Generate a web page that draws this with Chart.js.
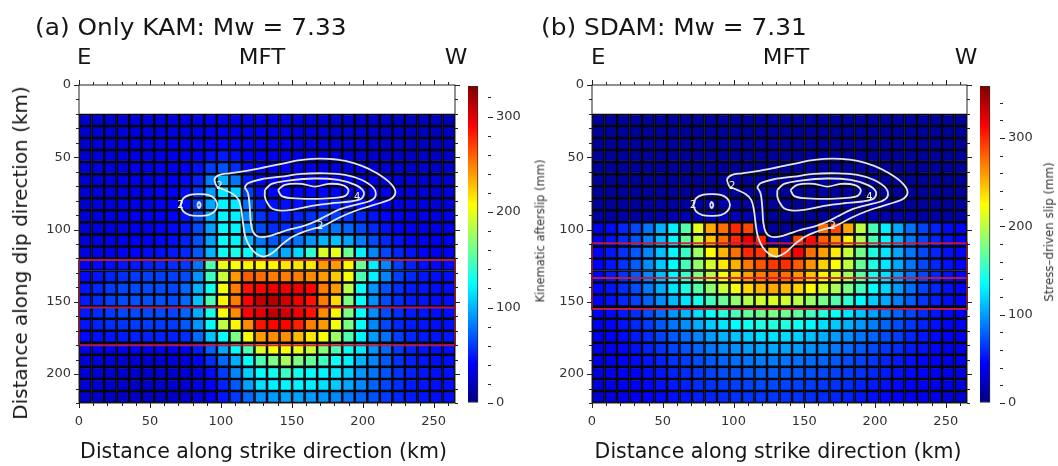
<!DOCTYPE html>
<html>
<head>
<meta charset="utf-8">
<title>Kinematic afterslip vs stress-driven afterslip</title>
<script src="https://cdn.jsdelivr.net/npm/chart.js@4.4.1/dist/chart.umd.min.js"></script>
<style>
html,body{margin:0;padding:0;background:#fff;}
#wrap{position:relative;width:1058px;height:466px;overflow:hidden;font-family:"DejaVu Sans",sans-serif;color:#161616;}
#wrap canvas{position:absolute;top:0;}
.t{position:absolute;white-space:nowrap;line-height:1;}
</style>
</head>
<body>
<div id="wrap">
<canvas id="heatA" width="470" height="466" style="left:0px;width:470px;height:466px"></canvas>
<canvas id="heatB" width="460" height="466" style="left:530px;width:460px;height:466px"></canvas>
<canvas id="barA" width="75" height="466" style="left:460px;width:75px;height:466px"></canvas>
<canvas id="barB" width="75" height="466" style="left:972px;width:75px;height:466px"></canvas>

<div class="t" style="left:35px;top:15.5px;font-size:23px;transform-origin:0 0;transform:scaleX(1.08)">(a) Only KAM: Mw = 7.33</div>
<div class="t" style="left:541px;top:15.5px;font-size:23px;transform-origin:0 0;transform:scaleX(1.08)">(b) SDAM: Mw = 7.31</div>

<div class="t" style="left:77px;top:47px;font-size:21px;transform-origin:0 0;transform:scaleX(1.09)">E</div>
<div class="t" style="left:262px;top:47px;font-size:21px;transform:translateX(-50%) scaleX(1.09)">MFT</div>
<div class="t" style="left:455.5px;top:47px;font-size:21px;transform:translateX(-50%) scaleX(1.09)">W</div>
<div class="t" style="left:591px;top:47px;font-size:21px;transform-origin:0 0;transform:scaleX(1.09)">E</div>
<div class="t" style="left:786px;top:47px;font-size:21px;transform:translateX(-50%) scaleX(1.09)">MFT</div>
<div class="t" style="left:966px;top:47px;font-size:21px;transform:translateX(-50%) scaleX(1.09)">W</div>

<div class="t" style="left:20px;top:253px;font-size:20px;transform:translate(-50%,-50%) rotate(-90deg)">Distance along dip direction (km)</div>
<div class="t" style="left:263.5px;top:440.7px;font-size:20.5px;transform:translateX(-50%)">Distance along strike direction (km)</div>
<div class="t" style="left:778px;top:440.7px;font-size:20.5px;transform:translateX(-50%)">Distance along strike direction (km)</div>

<div class="t" style="left:541.4px;top:230.5px;font-size:11.5px;color:#333;transform:translate(-50%,-50%) rotate(-90deg)">Kinematic afterslip (mm)</div>
<div class="t" style="left:1049.5px;top:231.5px;font-size:11.8px;color:#333;transform:translate(-50%,-50%) rotate(-90deg)">Stress–driven slip (mm)</div>
</div>

<script>
// ---------------- DATA ----------------
// along-strike cell centres (km) and along-dip cell edges (km)
const colCenters = [4.42,13.25,22.08,30.92,39.75,48.58,57.42,66.25,75.08,83.92,92.75,101.58,110.42,119.25,128.08,136.92,145.75,154.58,163.42,172.25,181.08,189.92,198.75,207.58,216.42,225.25,234.08,242.92,251.75,260.58];
const rowEdges = [20,28.33,36.67,45,53.33,61.67,70,78.33,86.67,95,103.33,111.67,120,128.33,136.67,145,153.33,161.67,170,178.33,186.67,195,203.33,211.67,220];

const xTickLabels = [0,50,100,150,200,250];
const yTickLabels = [0,50,100,150,200];
const cbarTickLabels = [0,100,200,300];
const kamMax = 332;
const sdamMax = 359;

// (a) kinematic afterslip, mm (rows top->bottom, columns E->W)
const kamSlip = [
[26,26,27,28,29,30,30,31,32,33,34,35,35,35,34,33,32,30,28,27,26,25,24,23,22,21,20,20,20,20],
[26,27,28,29,30,31,31,32,33,34,36,37,37,36,35,34,33,31,29,28,27,26,25,24,23,22,21,21,21,21],
[27,28,29,30,31,32,33,34,35,37,40,42,40,38,36,35,34,32,30,29,28,27,26,25,24,23,22,22,22,22],
[27,28,29,30,32,33,34,35,37,40,46,50,46,40,37,36,35,33,31,30,29,28,27,26,25,24,23,23,23,23],
[28,29,30,31,33,34,35,37,40,46,60,68,56,44,39,37,36,34,33,32,31,30,29,28,27,26,25,25,25,25],
[28,29,30,32,33,35,37,39,43,52,82,100,80,50,42,39,38,37,36,36,35,34,33,31,30,29,28,27,27,27],
[28,29,31,32,34,36,38,40,45,58,92,118,110,62,46,42,41,41,42,42,41,40,38,36,34,32,30,29,29,29],
[28,30,31,33,35,37,39,41,46,62,96,122,118,78,52,46,46,47,49,51,51,49,46,42,38,35,33,31,31,31],
[29,30,32,34,36,38,40,42,47,64,95,122,120,86,58,50,50,52,56,62,62,58,53,47,42,38,35,33,33,33],
[30,31,33,35,37,39,41,44,49,66,94,124,122,92,66,56,56,60,66,76,80,74,65,55,47,42,38,35,35,35],
[31,33,35,37,39,41,43,46,52,68,95,125,122,100,80,70,72,80,90,100,105,96,82,66,54,47,42,38,37,37],
[33,35,37,40,42,44,46,49,55,70,100,128,132,125,108,96,98,112,140,195,200,160,120,86,64,53,47,42,40,40],
[40,44,46,48,50,52,54,56,60,80,150,200,205,210,210,210,215,215,215,240,240,210,160,120,85,62,52,46,44,44],
[44,48,52,56,60,62,62,62,66,90,145,190,240,260,255,250,250,250,245,240,225,205,150,120,85,62,54,48,46,46],
[48,54,60,64,66,66,66,64,75,100,130,205,250,285,290,295,295,295,290,250,240,185,125,90,68,56,50,48,46,46],
[50,56,62,66,68,68,68,66,76,105,150,210,250,290,310,315,305,295,285,250,220,165,125,88,66,56,50,48,46,46],
[50,55,60,64,66,66,66,64,74,98,132,205,245,290,300,312,305,295,285,245,210,165,125,88,66,56,50,48,46,46],
[48,52,56,58,60,60,60,60,70,90,125,185,210,245,285,290,290,280,250,240,205,165,125,85,64,54,50,48,46,46],
[44,46,48,50,52,52,52,52,56,75,105,125,165,205,240,245,245,230,215,205,175,150,120,92,78,62,54,50,48,48],
[36,37,38,38,38,38,38,38,42,50,72,96,125,150,195,205,205,200,190,168,150,128,118,90,76,60,52,48,46,46],
[30,30,29,28,28,28,28,30,34,42,55,75,98,125,150,165,178,165,158,145,128,120,100,86,70,58,52,48,46,46],
[28,27,26,25,25,25,25,26,28,32,44,60,85,110,125,130,145,130,125,122,118,108,90,80,68,58,52,48,46,46],
[27,26,25,24,24,24,24,26,28,32,40,52,70,95,115,120,122,122,120,115,108,96,86,74,64,56,50,48,46,46],
[26,25,24,23,23,23,23,25,27,31,38,48,60,76,88,92,95,95,92,90,86,80,74,68,60,54,50,48,46,46]
];

// (b) stress-driven afterslip, mm
const sdamSlip = [
[10,10,10,10,10,10,10,10,10,10,10,10,10,10,10,10,10,10,10,10,10,10,10,10,10,10,10,10,10,10],
[10,10,10,10,10,10,10,10,10,10,10,10,10,10,10,10,10,10,10,10,10,10,10,10,10,10,10,10,10,10],
[10,10,10,10,10,10,10,10,10,10,10,10,10,10,10,10,10,10,10,10,10,10,10,10,10,10,10,10,10,10],
[10,10,10,10,10,10,10,10,10,10,10,10,10,10,10,10,10,10,10,10,10,10,10,10,10,10,10,10,10,10],
[10,10,10,10,10,10,10,10,10,10,10,10,10,10,10,10,10,10,10,10,10,10,10,10,10,10,10,10,10,10],
[10,10,10,10,10,10,10,10,10,10,10,10,10,10,10,10,10,10,10,10,10,10,10,10,10,10,10,10,10,10],
[11,11,11,11,11,11,11,11,11,11,11,10,10,10,10,10,10,10,10,10,10,11,11,11,11,11,11,11,11,11],
[11,11,12,12,12,13,13,13,14,14,14,13,12,10,9,9,9,9,10,11,12,13,13,13,12,12,12,11,11,11],
[12,12,13,14,15,16,17,18,20,22,22,20,18,14,9,9,9,9,10,12,15,18,18,17,16,15,14,13,12,12],
[40,48,58,70,86,108,130,165,215,255,275,300,290,20,8,8,8,8,275,290,255,200,160,130,105,85,68,56,48,44],
[42,50,60,74,90,110,132,168,205,245,275,300,320,300,20,15,290,310,280,258,230,195,160,132,108,88,70,58,50,45],
[44,52,62,76,92,112,132,155,190,225,250,275,300,295,250,295,315,275,258,232,205,175,145,126,104,86,70,58,50,46],
[45,52,62,78,95,115,135,160,188,210,232,252,272,285,295,298,282,262,240,222,202,172,145,126,104,86,70,58,50,46],
[46,53,62,76,92,112,132,155,180,200,220,240,258,270,278,275,262,245,228,212,192,168,142,124,102,85,70,58,50,46],
[46,52,60,72,88,105,125,145,165,185,205,222,238,250,255,250,240,225,210,195,178,158,136,120,100,84,68,58,50,46],
[45,50,58,68,80,95,110,126,142,158,172,186,198,208,212,208,200,188,176,164,150,134,118,104,90,78,64,55,49,45],
[44,48,54,62,72,84,98,110,124,136,148,160,168,174,178,174,168,158,148,138,126,114,102,90,80,70,60,52,47,43],
[42,46,51,58,66,76,86,96,106,116,126,134,140,146,148,146,140,132,124,116,108,98,90,80,72,64,56,50,46,42],
[40,44,48,54,60,68,76,84,92,100,108,114,118,122,124,122,118,112,106,100,94,86,80,72,66,58,52,48,44,40],
[38,42,46,50,56,62,68,74,80,86,92,96,100,102,104,102,100,96,92,88,82,76,70,64,60,54,50,46,42,38],
[36,40,44,48,52,56,62,66,72,76,80,84,86,88,88,86,85,82,80,76,72,68,64,58,54,50,46,43,40,36],
[34,38,42,45,48,52,56,60,64,68,72,74,76,78,78,76,75,73,70,68,65,62,58,54,50,47,44,41,38,34],
[32,36,40,43,46,50,53,56,60,62,65,67,68,70,70,68,67,66,64,62,60,56,53,50,47,44,42,39,36,32],
[30,34,38,41,44,47,50,52,55,57,60,62,63,64,64,63,62,61,60,58,56,52,50,47,45,42,40,37,34,30]
];

// depth lines of the red boxes (km): top, middle, bottom
const kamBoxDepths = [121, 154, 180];
const sdamBoxDepths = [109.5, 133.5, 155];

// coseismic slip contours, [strike km, dip km]
const contourOuter = [[97,70.3],[95.5,65.2],[99,62.2],[106,61.1],[119,59.2],[131,56.9],[142.7,54.6],[153.3,52.3],[164,51.1],[175.8,51.1],[187.6,52.5],[199.4,56],[210,61.1],[219.5,68],[223,73.7],[220.6,78.3],[213.5,81.3],[204.1,84.1],[193.5,87.5],[184,91.5],[177,95.1],[171,98],[164,99.8],[156.9,102.1],[149.8,105.3],[142.7,110.6],[136.8,115.9],[130.5,118.7],[125,116.8],[120.3,111.7],[117.2,104.8],[115.6,95.6],[114.4,86.4],[112.5,79.5],[108.5,75.4],[102.6,72.6],[97,70.3]];
const contourSecond = [[116.7,70.7],[119.1,68],[128.6,65.2],[142.7,63.4],[156.9,61.5],[173.4,61.1],[187.6,62.2],[199.4,65.7],[207.7,71.4],[208.8,77.2],[204.1,80.6],[194.7,82.9],[182.8,86.4],[173.4,91],[166.3,94.5],[156.9,98],[147.4,100.2],[140.3,102.5],[133.3,104.8],[126.2,104.8],[122.6,101.4],[121,94.5],[120.3,84.1],[119.1,74.9],[116.7,70.7]];
const contourThird = [[131,72.6],[135.7,68.4],[147.5,66.1],[166.3,64.7],[182.8,65.7],[194.7,69.1],[200.6,73.7],[199.4,78.3],[191.1,80.6],[178.1,81.8],[164,83.6],[152.1,86],[142.7,86.9],[135.7,85.2],[132.2,80.6],[131,77.2],[131,72.6]];
const contourInner = [[140.3,72.6],[145,69.1],[156.9,68.4],[166.3,70.3],[175.8,68.4],[185.2,69.1],[189.9,72.6],[187.6,76.7],[178.1,78.3],[164,78.8],[149.8,78.3],[142.7,76.7],[140.3,72.6]];
const contourWestLobe = [[71.5,83],[73.5,78.5],[78,76],[84.5,75.5],[91,76],[95.5,78.5],[97.5,83],[95.5,87.5],[91,90],[84.5,90.5],[78,90],[73.5,87.5],[71.5,83]];
const contourWestPeak = [[83.3,83],[84.5,80.8],[85.7,83],[84.5,85.2],[83.3,83]];
const contourLabelText = [[99,70.5,'2'],[71.5,83,'2'],[196,77.5,'4'],[170,97.5,'2']];

// ---------------- RENDERING ----------------
Chart.defaults.font.family = "'DejaVu Sans', sans-serif";

function jet(t) {
  t = Math.max(0, Math.min(1, t));
  const f = v => Math.round(255 * Math.max(0, Math.min(1, v)));
  return 'rgb(' + f(1.5 - Math.abs(4 * t - 3)) + ',' + f(1.5 - Math.abs(4 * t - 2)) + ',' + f(1.5 - Math.abs(4 * t - 1)) + ')';
}

const tickFont = { family: "'DejaVu Sans', sans-serif", size: 13 };
const tickColor = '#333';

const frameTicks = {
  id: 'frameTicks',
  afterDatasetsDraw(chart, args, o) {
    const { ctx, chartArea: a, scales } = chart;
    const xs = scales.x, ys = scales.y;
    ctx.save();
    ctx.strokeStyle = '#222';
    ctx.lineWidth = 1;
    if (o.frame) ctx.strokeRect(a.left, a.top, a.right - a.left, a.bottom - a.top);
    ctx.beginPath();
    if (o.xMinor) {
      for (let v = xs.min; v <= xs.max + 1e-6; v += o.xMinor) {
        const p = Math.round(xs.getPixelForValue(v)) + 0.5;
        const L = (Math.abs(v % o.xMajor) < 1e-6) ? 5 : 3;
        ctx.moveTo(p, a.bottom); ctx.lineTo(p, a.bottom + L);
        ctx.moveTo(p, a.top); ctx.lineTo(p, a.top - L);
      }
    }
    if (o.yMinor) {
      for (let v = ys.min; v <= ys.max + 1e-6; v += o.yMinor) {
        const p = Math.round(ys.getPixelForValue(v)) + 0.5;
        const L = (Math.abs(v % o.yMajor) < 1e-6) ? 5 : 3;
        if (o.yLeft) { ctx.moveTo(a.left, p); ctx.lineTo(a.left - L, p); }
        ctx.moveTo(a.right, p); ctx.lineTo(a.right + L, p);
      }
    }
    ctx.stroke();
    ctx.restore();
  }
};

const contourText = {
  id: 'contourText',
  afterDatasetsDraw(chart, args, o) {
    if (!o.items) return;
    const { ctx, scales } = chart;
    ctx.save();
    ctx.fillStyle = '#f2f2f8';
    ctx.font = "10px 'DejaVu Sans', sans-serif";
    ctx.textAlign = 'center';
    ctx.textBaseline = 'middle';
    o.items.forEach(([x, y, s]) => ctx.fillText(s, scales.x.getPixelForValue(x), scales.y.getPixelForValue(y)));
    ctx.restore();
  }
};

function pts(arr) { return arr.map(([x, y]) => ({ x, y })); }

function heatChart(id, grid, cmax, boxDepths, padL, padR) {
  const datasets = [];
  [contourOuter, contourSecond, contourThird, contourInner, contourWestLobe, contourWestPeak].forEach(c => {
    datasets.push({ type: 'line', data: pts(c), borderColor: 'rgba(238,240,250,0.95)', borderWidth: 1.8,
      pointRadius: 0, tension: 0.35, fill: false, order: 0 });
  });
  const [top, mid, bot] = boxDepths;
  datasets.push({ type: 'line', data: [{x:0,y:top},{x:265,y:top},{x:265,y:bot},{x:0,y:bot},{x:0,y:top}],
    borderColor: 'rgba(196,28,56,0.92)', borderWidth: 2, pointRadius: 0, tension: 0, fill: false, order: 1, clip: 3 });
  datasets.push({ type: 'line', data: [{x:0,y:mid},{x:265,y:mid}],
    borderColor: 'rgba(196,28,56,0.92)', borderWidth: 2, pointRadius: 0, tension: 0, fill: false, order: 1, clip: 3 });
  grid.forEach((row, i) => {
    datasets.push({
      type: 'bar',
      data: row.map((v, j) => ({ x: colCenters[j], y: [rowEdges[i], rowEdges[i + 1]], v })),
      backgroundColor: c => (c.raw ? jet(c.raw.v / cmax) : '#000'),
      borderColor: '#05050c', borderWidth: 1.6, borderSkipped: false,
      grouped: false, barPercentage: 1, categoryPercentage: 1, order: 5
    });
  });
  return new Chart(document.getElementById(id), {
    type: 'bar',
    data: { datasets },
    options: {
      responsive: false, animation: false, events: [],
      layout: { padding: { left: padL, right: padR, top: 85, bottom: 33 } },
      plugins: {
        legend: { display: false }, tooltip: { enabled: false },
        frameTicks: { frame: true, xMinor: 10, xMajor: 50, yMinor: 10, yMajor: 50, yLeft: true },
        contourText: { items: contourLabelText }
      },
      scales: {
        x: {
          type: 'linear', min: 0, max: 265, offset: false,
          afterBuildTicks: s => { s.ticks = xTickLabels.map(v => ({ value: v })); },
          ticks: { font: tickFont, color: tickColor, padding: 6, maxRotation: 0, autoSkip: false },
          grid: { drawOnChartArea: false, tickLength: 5, tickColor: 'rgba(0,0,0,0)', offset: false },
          border: { display: false },
          afterFit: s => { s.height = 30; }
        },
        y: {
          type: 'linear', min: 0, max: 220, reverse: true,
          afterBuildTicks: s => { s.ticks = yTickLabels.map(v => ({ value: v })); },
          ticks: { font: tickFont, color: tickColor, padding: 3, autoSkip: false },
          grid: { drawOnChartArea: false, tickLength: 5, tickColor: 'rgba(0,0,0,0)' },
          border: { display: false },
          afterFit: s => { s.width = 40; }
        }
      }
    },
    plugins: [frameTicks, contourText]
  });
}

function colorBar(id, cmax) {
  return new Chart(document.getElementById(id), {
    type: 'bar',
    data: {
      labels: ['slip'],
      datasets: [{
        data: [[0, cmax]],
        backgroundColor: c => {
          const ch = c.chart;
          if (!ch.chartArea) return 'transparent';
          const ys = ch.scales.y;
          const g = ch.ctx.createLinearGradient(0, ys.getPixelForValue(0), 0, ys.getPixelForValue(cmax));
          for (let k = 0; k <= 32; k++) g.addColorStop(k / 32, jet(k / 32));
          return g;
        },
        borderColor: '#2a2a2a', borderWidth: 1, borderSkipped: false,
        barPercentage: 1, categoryPercentage: 1
      }]
    },
    options: {
      responsive: false, animation: false, events: [],
      layout: { padding: { left: 8, right: 7, top: 86, bottom: 63 } },
      plugins: {
        legend: { display: false }, tooltip: { enabled: false },
        frameTicks: { frame: false, yMinor: 20, yMajor: 100, yLeft: false }
      },
      scales: {
        x: { display: false, offset: false },
        y: {
          position: 'right', min: 0, max: cmax,
          afterBuildTicks: s => { s.ticks = cbarTickLabels.map(v => ({ value: v })); },
          ticks: { font: tickFont, color: tickColor, padding: 3, autoSkip: false },
          grid: { drawOnChartArea: false, tickLength: 5, tickColor: 'rgba(0,0,0,0)' },
          border: { display: false },
          afterFit: s => { s.width = 40; }
        }
      }
    },
    plugins: [frameTicks]
  });
}

heatChart('heatA', kamSlip, kamMax, kamBoxDepths, 39, 15);
heatChart('heatB', sdamSlip, sdamMax, sdamBoxDepths, 22, 23);
colorBar('barA', kamMax);
colorBar('barB', sdamMax);
</script>
</body>
</html>
